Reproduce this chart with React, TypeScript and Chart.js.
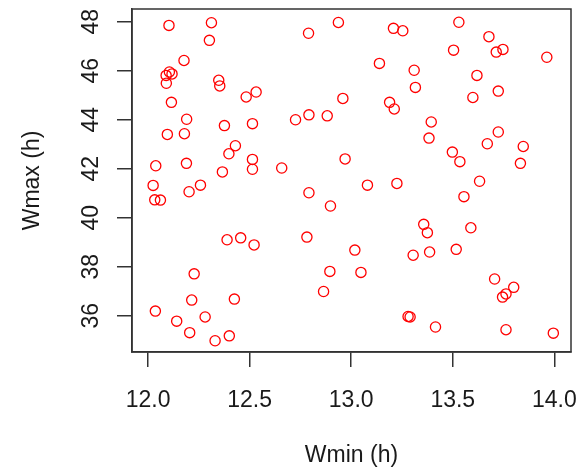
import React, { useEffect, useRef } from "react";
import { Chart, registerables } from "chart.js";

Chart.register(...registerables);

const wmin: number[] = [
  12.103, 12.312, 12.302, 12.79, 12.937, 12.177, 12.105, 12.089, 12.118, 12.09,
  12.348, 12.353, 12.483, 12.532, 12.959, 12.115, 12.19, 12.376, 12.514, 12.726,
  12.792, 12.882, 12.095, 12.179, 12.43, 12.398, 12.514, 12.514, 12.658, 12.038,
  12.189, 12.366, 12.97,
  13.208, 13.254, 13.53, 13.678, 13.504, 13.714, 13.747, 13.963, 13.139, 13.31,
  13.619, 13.316, 13.599, 13.724, 13.189, 13.212, 13.394, 13.383, 13.724, 13.67,
  13.847, 13.498, 13.535, 13.833,
  12.025, 12.033, 12.061, 12.202, 12.258, 12.792, 12.898, 12.389, 12.456, 12.522,
  12.782, 12.227, 12.895, 12.864, 12.215, 12.425, 12.036, 12.141, 12.281, 12.205,
  12.33, 12.4,
  13.08, 13.225, 13.632, 13.555, 13.357, 13.375, 13.589, 13.018, 13.305, 13.386,
  13.517, 13.048, 13.706, 13.8, 13.762, 13.745, 13.28, 13.29, 13.415, 13.762,
  13.995,
];

const wmax: number[] = [
  47.85, 47.96, 47.24, 47.53, 47.97, 46.42, 45.95, 45.81, 45.87, 45.49,
  45.61, 45.38, 44.93, 45.13, 44.87, 44.71, 44.02, 43.76, 43.84, 44.0,
  44.2, 44.16, 43.4, 43.43, 42.94, 42.61, 42.38, 41.98, 42.03, 42.12,
  42.22, 41.87, 42.4,
  47.73, 47.63, 47.98, 47.39, 46.84, 46.76, 46.87, 46.55, 46.3, 46.02,
  45.81, 45.32, 44.91, 45.17, 44.71, 44.44, 43.91, 43.25, 43.5, 43.02,
  42.91, 42.68, 42.29, 42.22,
  41.32, 40.73, 40.72, 41.06, 41.33, 41.02, 40.48, 39.1, 39.18, 38.89,
  39.21, 37.71, 37.81, 36.99, 36.64, 36.68, 36.19, 35.78, 35.95, 35.31,
  34.98, 35.18,
  41.33, 41.4, 41.49, 40.86, 39.73, 39.39, 39.59, 38.68, 38.47, 38.6,
  38.71, 37.77, 37.5, 37.16, 36.89, 36.76, 35.97, 35.95, 35.54, 35.43,
  35.29,
];

const xTicks: number[] = [12.0, 12.5, 13.0, 13.5, 14.0];
const yTicks: number[] = [36, 38, 40, 42, 44, 46, 48];
const xTitle = "Wmin (h)";
const yTitle = "Wmax (h)";

const FONT = "'Liberation Sans', Arial, Helvetica, sans-serif";
const INK = "#1a1a1a";
const LINE = "#333333";

const boxPlugin = {
  id: "boxPlugin",
  afterDraw(chart: any) {
    const { ctx, chartArea } = chart;
    ctx.save();
    ctx.strokeStyle = LINE;
    ctx.lineWidth = 1.5;
    ctx.strokeRect(
      chartArea.left,
      chartArea.top,
      chartArea.right - chartArea.left,
      chartArea.bottom - chartArea.top
    );
    ctx.restore();
  },
};

const zeroPad = (scale: any) => {
  scale.paddingLeft = 0;
  scale.paddingRight = 0;
  scale.paddingTop = 0;
  scale.paddingBottom = 0;
};

export default function App() {
  const ref = useRef<HTMLCanvasElement | null>(null);

  useEffect(() => {
    if (!ref.current) return;
    const points = wmin.map((x, i) => ({ x, y: wmax[i] }));
    const chart = new Chart(ref.current, {
      type: "scatter",
      data: {
        datasets: [
          {
            data: points,
            pointStyle: "circle",
            pointRadius: 5.1,
            pointBorderWidth: 1.3,
            borderColor: "#ff0000",
            backgroundColor: "rgba(0,0,0,0)",
            pointBackgroundColor: "rgba(0,0,0,0)",
            pointBorderColor: "#ff0000",
            clip: false,
          } as any,
        ],
      },
      options: {
        responsive: false,
        animation: false,
        layout: { padding: { top: 9, right: 9, left: 0, bottom: 0 } },
        plugins: {
          legend: { display: false },
          tooltip: { enabled: false },
        },
        scales: {
          x: {
            type: "linear",
            position: "bottom",
            min: 11.921,
            max: 14.082,
            afterBuildTicks: (scale: any) => {
              scale.ticks = xTicks.map((v) => ({ value: v }));
            },
            afterFit: (scale: any) => {
              scale.height = 121;
              zeroPad(scale);
            },
            ticks: {
              autoSkip: false,
              maxRotation: 0,
              minRotation: 0,
              padding: 20,
              color: INK,
              font: { family: FONT, size: 23 },
              callback: (v: any) => Number(v).toFixed(1),
            },
            grid: {
              drawOnChartArea: false,
              drawTicks: true,
              tickLength: 15,
              color: LINE,
              lineWidth: 1.5,
            },
            border: { display: true, color: LINE, width: 1.5 },
            title: {
              display: true,
              text: xTitle,
              color: INK,
              font: { family: FONT, size: 23 },
              padding: { top: 0, bottom: 4 },
            },
          },
          y: {
            type: "linear",
            position: "left",
            min: 34.52,
            max: 48.52,
            afterBuildTicks: (scale: any) => {
              scale.ticks = yTicks.map((v) => ({ value: v }));
            },
            afterFit: (scale: any) => {
              scale.width = 132;
              zeroPad(scale);
            },
            ticks: {
              autoSkip: false,
              minRotation: 90,
              maxRotation: 90,
              crossAlign: "center",
              padding: 13,
              color: INK,
              font: { family: FONT, size: 23 },
              callback: (v: any) => String(v),
            },
            grid: {
              drawOnChartArea: false,
              drawTicks: true,
              tickLength: 15,
              color: LINE,
              lineWidth: 1.5,
            },
            border: { display: true, color: LINE, width: 1.5 },
            title: {
              display: true,
              text: yTitle,
              color: INK,
              font: { family: FONT, size: 23 },
              padding: { top: 19, bottom: 0 },
            },
          },
        },
      },
      plugins: [boxPlugin],
    });
    return () => chart.destroy();
  }, []);

  return (
    <div style={{ position: "fixed", left: 0, top: 0, width: 580, height: 473, background: "#fff" }}>
      <canvas ref={ref} width={580} height={473} style={{ width: 580, height: 473, display: "block" }} />
    </div>
  );
}
